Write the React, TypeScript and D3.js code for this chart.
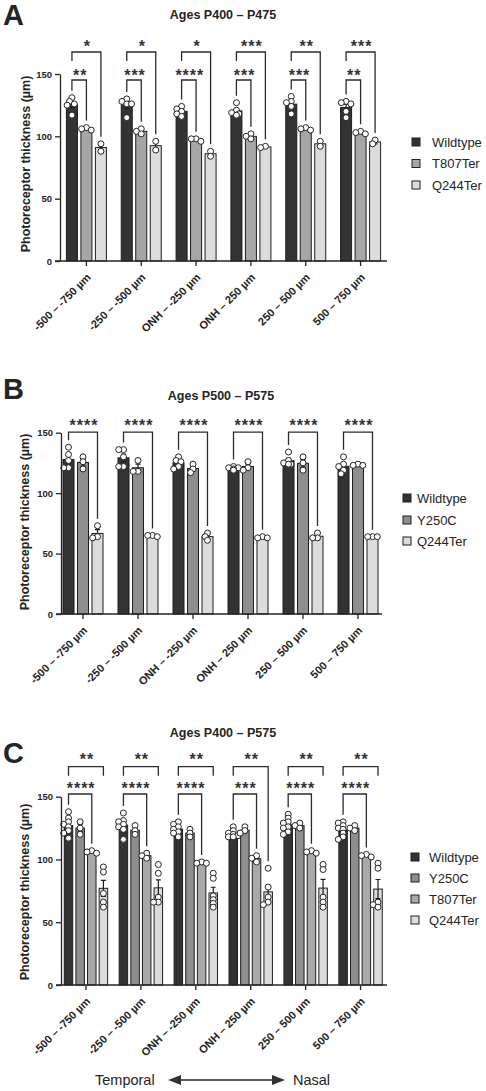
import React, { useEffect, useRef } from "react";
import * as d3 from "d3";

// retinal position bins (x categories, shared by all panels)
const regions = ["-500 – -750 µm", "-250 – -500 µm", "ONH – -250 µm", "ONH – 250 µm", "250 – 500 µm", "500 – 750 µm"];

// Panel A: ages P400 – P475
const seriesA = ["Wildtype", "T807Ter", "Q244Ter"];
const wtA = [[131, 128, 126, 125, 117], [130, 128, 126, 126, 115], [124, 122, 120, 118, 116], [127, 121, 119, 118, 117], [132, 128, 127, 124, 118], [128, 127, 126, 120, 115]];
const t807A = [[107, 106, 105], [106, 104, 102], [98, 98, 96], [102, 100, 98], [107, 106, 105], [104, 103, 102]];
const q244A = [[94, 88], [96, 89], [88, 84], [92, 91], [96, 92], [97, 94]];
const starsAUpper = ["*", "*", "*", "***", "**", "***"];
const starsALower = ["**", "***", "****", "***", "***", "**"];

// Panel B: ages P500 – P575
const seriesB = ["Wildtype", "Y250C", "Q244Ter"];
const wtB = [[138, 132, 127, 121, 121], [136, 136, 130, 122, 122], [130, 127, 126, 122, 120], [122, 121, 121, 120, 119], [134, 127, 125, 124, 124], [130, 124, 122, 119, 116]];
const y250cB = [[130, 126, 120], [127, 118, 118], [124, 120, 117], [126, 121, 119], [130, 125, 119], [124, 123, 123]];
const q244B = [[73, 64, 63], [65, 65, 64], [67, 64, 61], [64, 63, 63], [67, 63, 63], [64, 64, 64]];
const starsB = ["****", "****", "****", "****", "****", "****"];

// Panel C: ages P400 – P575
const seriesC = ["Wildtype", "Y250C", "T807Ter", "Q244Ter"];
const wtC = [
  [138, 133, 130, 128, 126, 123, 121, 117],
  [137, 131, 130, 128, 126, 124, 116],
  [130, 128, 126, 124, 122, 121, 118],
  [126, 123, 121, 120, 119, 118, 118],
  [136, 133, 130, 129, 126, 125, 122, 120],
  [130, 129, 127, 125, 124, 121, 118, 116],
];
const y250cC = [[130, 125, 120], [127, 123, 120], [124, 121, 118], [126, 123, 121], [129, 127, 125], [127, 125, 123]];
const t807C = [[107, 106, 105], [105, 103, 101], [98, 97, 97], [103, 101, 98], [107, 106, 105], [104, 103, 102]];
const q244C = [[94, 90, 73, 66, 62], [96, 89, 70, 66, 66], [89, 85, 71, 68, 65, 62], [93, 78, 70, 66, 64], [96, 92, 70, 66, 62], [97, 93, 66, 64, 62]];
const starsCUpper = ["**", "**", "**", "**", "**", "**"];
const starsCLower = ["****", "****", "****", "***", "****", "****"];
const shortRightCUpper = [true, true, true, false, true, true];

const FONT = "'Liberation Sans', Arial, sans-serif";
const INK = "#242424";

type Bracket = { to: number; stars: string[]; level: number; gap: number; shortLeft?: boolean; shortRight?: boolean[] };
type Panel = {
  letter: string; letterY: number; title: string; titleX: number; titleY: number;
  series: string[]; colors: string[]; dots: number[][][];
  y0: number; yTop: number; axisX: number; axisEnd: number; band: [number, number];
  half: number; pad: number; r: number;
  ylabX: number; ylabY: number;
  legX: number; legRows: number[]; legTextX: number;
  brackets: Bracket[];
};

const panels: Panel[] = [
  {
    letter: "A", letterY: 25, title: "Ages P400 – P475", titleX: 223, titleY: 19,
    series: seriesA, colors: ["#333333", "#a6a6a6", "#dcdcdf"], dots: [wtA, t807A, q244A],
    y0: 261, yTop: 74, axisX: 60, axisEnd: 387, band: [59, 388], half: 20, pad: 0.24, r: 3,
    ylabX: 26, ylabY: 164, legX: 412, legRows: [142, 163.5, 185], legTextX: 432,
    brackets: [
      { to: 2, stars: starsAUpper, level: -22, gap: 9, shortLeft: true },
      { to: 1, stars: starsALower, level: 6, gap: 8 },
    ],
  },
  {
    letter: "B", letterY: 399, title: "Ages P500 – P575", titleX: 221, titleY: 400,
    series: seriesB, colors: ["#333333", "#8e8e8e", "#dcdcdf"], dots: [wtB, y250cB, q244B],
    y0: 614, yTop: 432.7, axisX: 61, axisEnd: 382, band: [55.5, 385.5], half: 20, pad: 0.24, r: 3,
    ylabX: 25, ylabY: 522, legX: 403, legRows: [498, 520, 541], legTextX: 417,
    brackets: [{ to: 2, stars: starsB, level: -0.5, gap: 10 }],
  },
  {
    letter: "C", letterY: 763, title: "Ages P400 – P575", titleX: 223, titleY: 737,
    series: seriesC, colors: ["#333333", "#8e8e8e", "#a9a9a9", "#dcdcdf"], dots: [wtC, y250cC, t807C, q244C],
    y0: 985, yTop: 796.7, axisX: 61, axisEnd: 387, band: [58.5, 388], half: 21.7, pad: 0.27, r: 3,
    ylabX: 25, ylabY: 892, legX: 411, legRows: [857, 878, 899, 920], legTextX: 429,
    brackets: [
      { to: 3, stars: starsCUpper, level: -30, gap: 10.5, shortLeft: true, shortRight: shortRightCUpper },
      { to: 2, stars: starsCLower, level: -2.7, gap: 9 },
    ],
  },
];

// nudge points sideways a little so equal values stay visible
function swarm(values: number[], y: d3.ScaleLinear<number, number>, r: number) {
  const placed: { dx: number; cy: number }[] = [];
  const cands = [0, -1, 1, -2, 2].map((k) => k * r * 0.8);
  [...values].sort((a, b) => b - a).forEach((v) => {
    const cy = y(v);
    const dx = cands.find((c) => placed.every((p) => Math.hypot(p.dx - c, p.cy - cy) >= r * 1.25));
    placed.push({ dx: dx ?? 0, cy });
  });
  return placed;
}

function drawPanel(svg: d3.Selection<SVGSVGElement, unknown, null, undefined>, p: Panel) {
  const g = svg.append("g");
  const y = d3.scaleLinear().domain([0, 150]).range([p.y0, p.yTop]);
  const outer = d3.scaleBand().domain(regions).range(p.band);
  const inner = d3.scaleBand().domain(p.series).range([-p.half, p.half]).paddingInner(p.pad);
  const bw = inner.bandwidth();
  const cx = (i: number) => (outer(regions[i]) as number) + outer.bandwidth() / 2;
  const bx = (i: number, s: number) => cx(i) + (inner(p.series[s]) as number);

  // panel letter and title
  g.append("text").attr("x", 3).attr("y", p.letterY).attr("font-size", 29).attr("font-weight", 700)
    .attr("fill", INK).text(p.letter);
  g.append("text").attr("x", p.titleX).attr("y", p.titleY).attr("text-anchor", "middle")
    .attr("font-size", 12.5).attr("font-weight", 700).attr("fill", INK).text(p.title);

  // bars (mean), SEM and individual animals
  p.series.forEach((name, s) => {
    p.dots[s].forEach((vals, i) => {
      const m = d3.mean(vals) as number;
      const sem = vals.length > 1 ? (d3.deviation(vals) as number) / Math.sqrt(vals.length) : 0;
      const x = bx(i, s);
      g.append("rect").attr("x", x).attr("y", y(m)).attr("width", bw).attr("height", p.y0 - y(m))
        .attr("fill", p.colors[s]).attr("stroke", "#1e1e1e").attr("stroke-width", 1);
      const mid = x + bw / 2;
      g.append("path")
        .attr("d", `M${mid},${y(m - sem)}V${y(m + sem)}M${mid - 2.5},${y(m + sem)}H${mid + 2.5}M${mid - 2.5},${y(m - sem)}H${mid + 2.5}`)
        .attr("stroke", "#1e1e1e").attr("stroke-width", 1.2).attr("fill", "none");
      g.selectAll(null).data(swarm(vals, y, p.r)).join("circle")
        .attr("cx", (d) => mid + d.dx).attr("cy", (d) => d.cy).attr("r", p.r)
        .attr("fill", "#fff").attr("stroke", "#222").attr("stroke-width", 1);
    });
  });

  // y axis
  const ya = g.append("g").attr("transform", `translate(${p.axisX},0)`)
    .call(d3.axisLeft(y).tickValues([0, 50, 100, 150]).tickSize(5).tickPadding(3).tickSizeOuter(0));
  ya.select(".domain").attr("stroke", INK).attr("stroke-width", 1.3);
  ya.selectAll(".tick line").attr("stroke", INK).attr("stroke-width", 1.3);
  ya.selectAll(".tick text").attr("font-family", FONT).attr("font-size", 9.5).attr("font-weight", 700).attr("fill", INK);

  g.append("text").attr("transform", `translate(${p.ylabX},${p.ylabY}) rotate(-90)`)
    .attr("text-anchor", "middle").attr("dominant-baseline", "central")
    .attr("font-size", 12.5).attr("font-weight", 700).attr("fill", INK).text("Photoreceptor thickness (µm)");

  // x axis with rotated category labels
  g.append("line").attr("x1", p.axisX - 5).attr("x2", p.axisEnd).attr("y1", p.y0).attr("y2", p.y0)
    .attr("stroke", INK).attr("stroke-width", 1.3);
  regions.forEach((lab, i) => {
    g.append("line").attr("x1", cx(i)).attr("x2", cx(i)).attr("y1", p.y0).attr("y2", p.y0 + 5)
      .attr("stroke", INK).attr("stroke-width", 1.3);
    g.append("text").attr("transform", `translate(${cx(i) + 5},${p.y0 + 17}) rotate(-45)`)
      .attr("text-anchor", "end").attr("font-size", 11).attr("font-weight", 700).attr("fill", INK).text(lab);
  });

  // significance brackets
  p.brackets.forEach((b) => {
    regions.forEach((_, i) => {
      const lx = bx(i, 0) + bw / 2;
      const rx = bx(i, b.to) + bw / 2;
      const top = p.yTop + b.level;
      const legEnd = (s: number) => y(d3.max(p.dots[s][i]) as number) - p.r - 4;
      const le = b.shortLeft ? top + 9 : legEnd(0);
      const re = b.shortRight && b.shortRight[i] ? top + 9 : legEnd(b.to);
      g.append("path").attr("d", `M${lx},${le}V${top}H${rx}V${re}`)
        .attr("fill", "none").attr("stroke", "#2b2b2b").attr("stroke-width", 1.3);
      g.append("text").attr("x", (lx + rx) / 2 + 1).attr("y", top - b.gap + 9)
        .attr("text-anchor", "middle").attr("font-size", 16).attr("font-weight", 700).attr("letter-spacing", 1)
        .attr("fill", "#333").text(b.stars[i]);
    });
  });

  // legend
  p.series.forEach((name, s) => {
    const cy = p.legRows[s];
    g.append("rect").attr("x", p.legX).attr("y", cy - 4).attr("width", 8).attr("height", 8)
      .attr("fill", p.colors[s]).attr("stroke", "#1e1e1e").attr("stroke-width", 1);
    g.append("text").attr("x", p.legTextX).attr("y", cy + 4.5).attr("font-size", 13)
      .attr("fill", INK).text(name);
  });
}

export default function App() {
  const ref = useRef<SVGSVGElement>(null);

  useEffect(() => {
    const svg = d3.select(ref.current as SVGSVGElement);
    svg.selectAll("*").remove();
    panels.forEach((p) => drawPanel(svg, p));

    // temporal / nasal orientation arrow under panel C
    const ay = 1080;
    const arrow = svg.append("g");
    arrow.append("text").attr("x", 95).attr("y", ay + 5).attr("font-size", 14.5).attr("fill", INK).text("Temporal");
    arrow.append("text").attr("x", 293).attr("y", ay + 5).attr("font-size", 14.5).attr("fill", INK).text("Nasal");
    arrow.append("line").attr("x1", 178).attr("x2", 274).attr("y1", ay).attr("y2", ay).attr("stroke", INK).attr("stroke-width", 1.4);
    arrow.append("path").attr("d", `M168,${ay}L181,${ay - 5}L181,${ay + 5}Z`).attr("fill", "#333");
    arrow.append("path").attr("d", `M285,${ay}L272,${ay - 5}L272,${ay + 5}Z`).attr("fill", "#333");
  }, []);

  return (
    <svg ref={ref} width={486} height={1091} style={{ position: "absolute", left: 0, top: 0, background: "#fff", fontFamily: FONT }} />
  );
}
